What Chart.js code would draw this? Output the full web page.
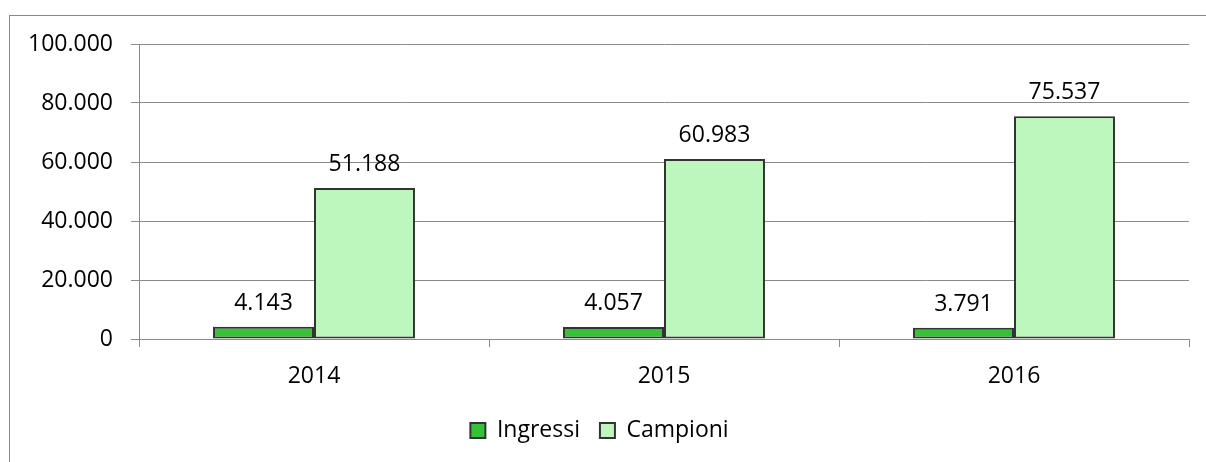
<!DOCTYPE html>
<html>
<head>
<meta charset="utf-8">
<script src="https://cdn.jsdelivr.net/npm/chart.js@4.4.1/dist/chart.umd.min.js"></script>
<style>
html,body{margin:0;padding:0;background:#fff;overflow:hidden;}
#wrap{position:relative;width:1206px;height:462px;}
#frame{position:absolute;left:9px;top:15px;width:1400px;height:600px;border:1px solid #8a8a8a;pointer-events:none;}
canvas{position:absolute;left:0;top:0;}
</style>
</head>
<body>
<div id="wrap">
<canvas id="c" width="1206" height="462"></canvas>
<div id="frame"></div>
</div>
<script>
const categories = ['2014', '2015', '2016'];
const ingressi = [4143, 4057, 3791];
const campioni = [51188, 60983, 75537];
const seriesNames = ['Ingressi', 'Campioni'];

function fmt(n){ return String(n).replace(/\B(?=(\d{3})+(?!\d))/g, '.'); }

const FONT = "'Open Sans', sans-serif";
const FS = 23;

const labelPlugin = {
  id: 'valueLabels',
  afterDatasetsDraw(chart){
    const ctx = chart.ctx;
    ctx.save();
    ctx.font = FS + "px " + FONT;
    ctx.fillStyle = '#000';
    ctx.textAlign = 'center';
    ctx.textBaseline = 'alphabetic';
    chart.data.datasets.forEach((ds, i) => {
      const meta = chart.getDatasetMeta(i);
      meta.data.forEach((bar, j) => {
        ctx.fillText(fmt(ds.data[j]), bar.x, bar.y - 17);
      });
    });
    ctx.restore();
  }
};

new Chart(document.getElementById('c'), {
  type: 'bar',
  data: {
    labels: categories,
    datasets: [
      { label: seriesNames[0], data: ingressi, backgroundColor: '#36c236', borderColor: '#333333', borderWidth: 2, borderSkipped: false },
      { label: seriesNames[1], data: campioni, backgroundColor: '#bdf7bd', borderColor: '#333333', borderWidth: 2, borderSkipped: false }
    ]
  },
  options: {
    responsive: false,
    animation: false,
    layout: { padding: { left: 10, right: 17, top: 44, bottom: 10 } },
    datasets: { bar: { categoryPercentage: 0.577, barPercentage: 1.0 } },
    plugins: {
      legend: {
        position: 'bottom',
        labels: {
          font: { family: FONT, size: FS },
          color: '#000',
          boxWidth: 15,
          boxHeight: 15,
          padding: 20
        }
      },
      tooltip: { enabled: false }
    },
    scales: {
      x: {
        grid: { drawOnChartArea: false, drawTicks: true, tickLength: 8, color: '#8a8a8a', offset: true },
        border: { color: '#8a8a8a', width: 1 },
        ticks: { font: { family: FONT, size: FS }, color: '#000', padding: 16 },
        afterFit(scale){ scale.height = 60; }
      },
      y: {
        min: 0, max: 100000,
        grid: { color: '#8a8a8a', lineWidth: 1, tickLength: 8 },
        border: { color: '#8a8a8a', width: 1 },
        ticks: { stepSize: 20000, font: { family: FONT, size: FS }, color: '#000', padding: 18, callback: v => fmt(v) },
        afterFit(scale){ scale.width = 129; }
      }
    }
  },
  plugins: [labelPlugin]
});
</script>
</body>
</html>
